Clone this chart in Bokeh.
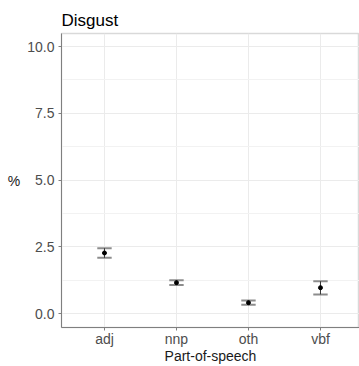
from bokeh.plotting import figure
from bokeh.models import FixedTicker, Label, ColumnDataSource
from bokeh.embed import file_html
from bokeh.resources import INLINE

categories = ["adj", "nnp", "oth", "vbf"]
means = [2.27, 1.16, 0.41, 0.97]
lowers = [2.09, 1.07, 0.33, 0.72]
uppers = [2.45, 1.25, 0.49, 1.21]
y_ticks = [0.0, 2.5, 5.0, 7.5, 10.0]
y_minor = [1.25, 3.75, 6.25, 8.75]

xs = [i + 1 for i in range(len(categories))]
cap = 0.1
src = ColumnDataSource(dict(
    x=xs, m=means, lo=lowers, hi=uppers,
    xl=[x - cap for x in xs], xr=[x + cap for x in xs],
))

p = figure(width=359, height=366, output_backend="svg", toolbar_location=None,
           x_range=(0.403, 4.542), y_range=(-0.52, 10.49),
           min_border_left=61, min_border_right=0, min_border_top=33,
           min_border_bottom=39, background_fill_color="white",
           border_fill_color="white")

p.title.text = "Disgust"
p.title.text_font = "Liberation Sans"
p.title.text_font_size = "17px"
p.title.text_font_style = "normal"
p.title.text_color = "#000000"
p.title.offset = 0
p.title.standoff = 8

p.outline_line_color = "#D9D9D9"
p.outline_line_width = 1.5

# axes
p.xaxis.ticker = FixedTicker(ticks=xs)
p.xaxis.major_label_overrides = {x: c for x, c in zip(xs, categories)}
p.yaxis.ticker = FixedTicker(ticks=y_ticks, minor_ticks=y_minor)
p.yaxis.major_label_overrides = {t: f"{t:.1f}" for t in y_ticks}
for ax in (p.xaxis, p.yaxis):
    ax.axis_line_color = "#7F7F7F"
    ax.axis_line_width = 1
    ax.major_tick_line_color = "#7F7F7F"
    ax.major_tick_in = 0
    ax.major_tick_out = 3
    ax.minor_tick_line_color = None
    ax.major_label_text_font = "Liberation Sans"
    ax.major_label_text_font_size = "14px"
    ax.major_label_text_color = "#4D4D4D"
    ax.major_label_standoff = 3
p.xaxis.major_label_standoff = 0
p.xaxis.axis_label = "Part-of-speech"
p.xaxis.axis_label_text_font = "Liberation Sans"
p.xaxis.axis_label_text_font_size = "14px"
p.xaxis.axis_label_text_font_style = "normal"
p.xaxis.axis_label_text_color = "#1A1A1A"
p.xaxis.axis_label_standoff = -2

# grid
p.xgrid.grid_line_color = "#EBEBEB"
p.ygrid.grid_line_color = "#EBEBEB"
p.ygrid.minor_grid_line_color = "#F2F2F2"
p.ygrid.minor_grid_line_width = 1

# y label horizontal
yax = p.yaxis[0]
if hasattr(yax, "axis_label_orientation"):
    yax.axis_label = "%"
    yax.axis_label_orientation = "horizontal"
    yax.axis_label_text_font = "Liberation Sans"
    yax.axis_label_text_font_size = "14px"
    yax.axis_label_text_font_style = "normal"
    yax.axis_label_text_color = "#1A1A1A"
    yax.axis_label_standoff = 4
else:
    p.add_layout(Label(x=10, y=185, x_units="screen", y_units="screen", text="%",
                       text_font="Liberation Sans", text_font_size="14px",
                       text_color="#1A1A1A", text_align="left", text_baseline="middle"))

# error bars
p.segment(x0="xl", x1="xr", y0="hi", y1="hi", source=src, line_color="#8C8C8C", line_width=2)
p.segment(x0="xl", x1="xr", y0="lo", y1="lo", source=src, line_color="#8C8C8C", line_width=2)
p.segment(x0="x", x1="x", y0="lo", y1="hi", source=src, line_color="#333333", line_width=1)
p.scatter(x="x", y="m", source=src, size=4, color="#000000")

open("out.html", "w").write(file_html(p, INLINE))
